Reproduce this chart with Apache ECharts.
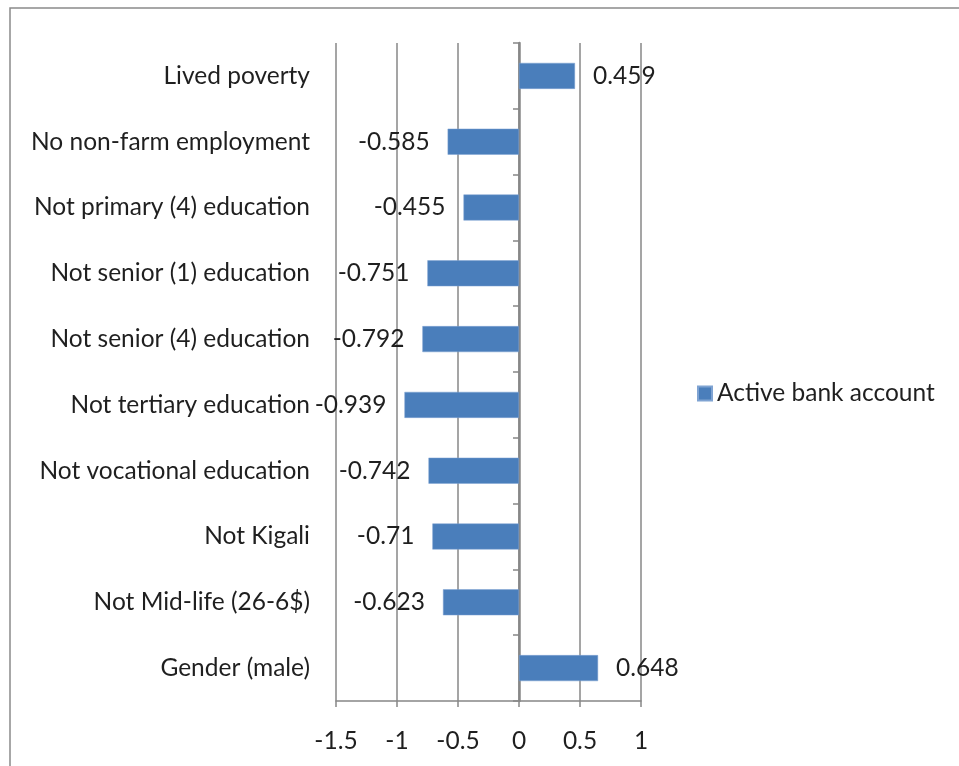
<!DOCTYPE html>
<html>
<head>
<meta charset="utf-8">
<script src="https://cdn.jsdelivr.net/npm/echarts@6/dist/echarts.min.js"></script>
<style>
  html, body { margin: 0; padding: 0; background: #fff; }
  #chart { width: 959px; height: 766px; }
</style>
</head>
<body>
<div id="chart"></div>
<script>
// Factors, listed top to bottom
const categories = [
  'Lived poverty',
  'No non-farm employment',
  'Not primary (4) education',
  'Not senior (1) education',
  'Not senior (4) education',
  'Not tertiary education',
  'Not vocational education',
  'Not Kigali',
  'Not Mid-life (26-6$)',
  'Gender (male)'
];
const seriesName = 'Active bank account';
const values = [0.459, -0.585, -0.455, -0.751, -0.792, -0.939, -0.742, -0.71, -0.623, 0.648];
const xTicks = [-1.5, -1, -0.5, 0, 0.5, 1];

const FONT = 'Lato';
const FS = 24.5;
const GRAY = '#878787';
const TEXT = '#1f1f1f';
const BLUE = '#4a7ebb';

const chart = echarts.init(document.getElementById('chart'));

chart.setOption({
  backgroundColor: '#ffffff',
  animation: false,
  textStyle: { fontFamily: FONT },
  graphic: [{
    type: 'rect',
    shape: { x: 10, y: 8, width: 1200, height: 1200 },
    style: { fill: 'none', stroke: '#8a8a8a', lineWidth: 1.5 },
    silent: true
  }],
  grid: { left: 336, right: 318, top: 43, bottom: 65, containLabel: false },
  legend: {
    data: [seriesName],
    orient: 'vertical',
    left: 692,
    top: 376,
    itemWidth: 14,
    itemHeight: 14,
    itemGap: 8,
    icon: 'rect',
    textStyle: { fontFamily: FONT, fontSize: FS, color: TEXT }
  },
  xAxis: {
    type: 'value',
    min: xTicks[0],
    max: xTicks[xTicks.length - 1],
    interval: 0.5,
    axisLine: { show: true, onZero: false, lineStyle: { color: GRAY, width: 1.5 } },
    axisTick: { show: true, length: 6, lineStyle: { color: GRAY, width: 1.5 } },
    axisLabel: { fontFamily: FONT, fontSize: FS, color: TEXT, margin: 28 },
    splitLine: { show: true, lineStyle: { color: GRAY, width: 1.5 } }
  },
  yAxis: [
    {
      // category names along the left edge of the plot
      type: 'category',
      data: categories,
      inverse: true,
      position: 'left',
      axisLine: { show: false, onZero: false },
      axisTick: { show: false },
      axisLabel: { fontFamily: FONT, fontSize: FS, color: TEXT, margin: 26, padding: [7, 0, 0, 0] },
      splitLine: { show: false }
    },
    {
      // zero line with category boundary ticks
      type: 'category',
      data: categories,
      inverse: true,
      position: 'left',
      axisLine: { show: true, onZero: true, lineStyle: { color: GRAY, width: 2.5 } },
      axisTick: { show: true, length: 6, lineStyle: { color: GRAY, width: 1.5 } },
      axisLabel: { show: false },
      splitLine: { show: false }
    }
  ],
  series: [{
    name: seriesName,
    type: 'bar',
    yAxisIndex: 0,
    data: values.map(v => ({
      value: v,
      label: { position: v < 0 ? 'left' : 'right' }
    })),
    barWidth: 26,
    itemStyle: { color: BLUE, borderColor: '#7fa3d2', borderWidth: 0.5 },
    label: {
      show: true,
      distance: 18,
      fontFamily: FONT,
      fontSize: FS,
      color: TEXT,
      padding: [6, 0, 0, 0],
      formatter: p => String(p.value)
    },
    z: 1
  }]
});
</script>
</body>
</html>
